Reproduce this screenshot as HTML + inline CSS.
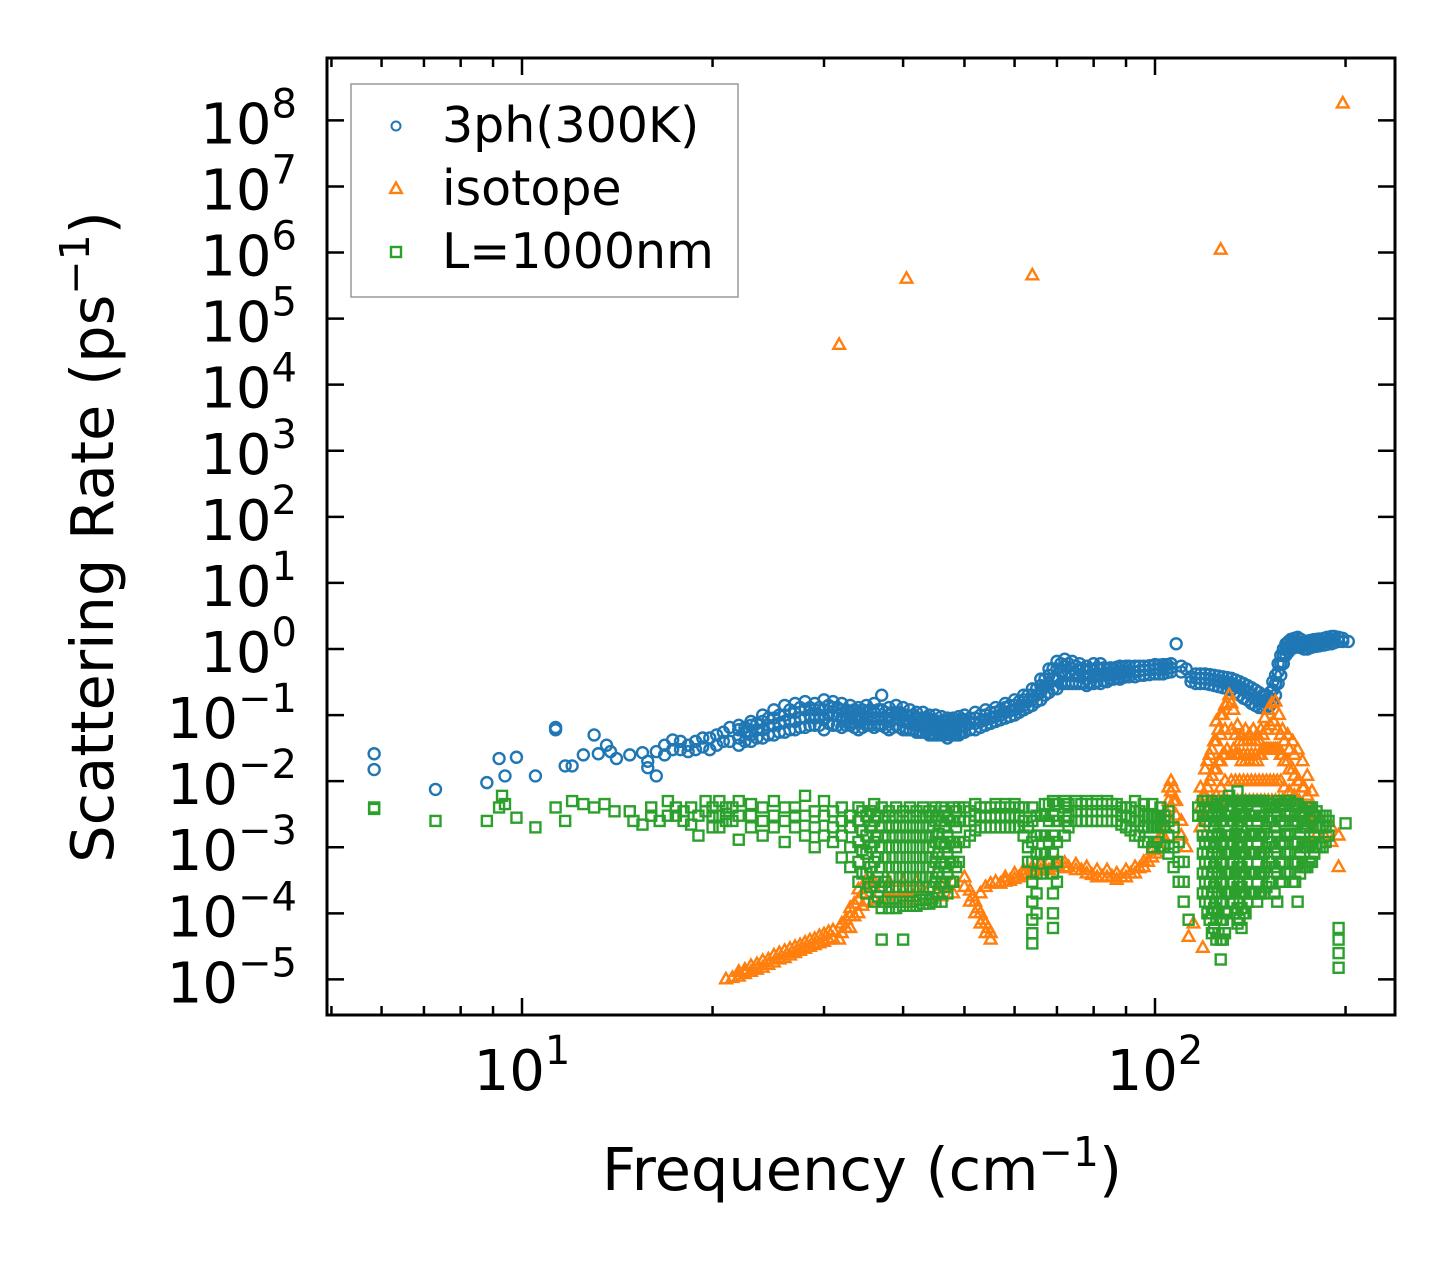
<!DOCTYPE html>
<html><head><meta charset="utf-8"><style>
html,body{margin:0;padding:0;background:#fff;}
svg{display:block;font-family:"DejaVu Sans","Liberation Sans",sans-serif;}
</style></head><body>
<svg id="chart" width="1455" height="1265" viewBox="0 0 1455 1265" xmlns="http://www.w3.org/2000/svg">
<defs><clipPath id="plotclip"><rect x="327" y="58" width="1068" height="957"/></clipPath></defs>
<g id="marks" clip-path="url(#plotclip)"></g>
<g id="axes"></g>
</svg>
<script>
const xTickExps = [1, 2];
const yTickExps = [8,7,6,5,4,3,2,1,0,-1,-2,-3,-4,-5];
const seriesNames = ["3ph(300K)", "isotope", "L=1000nm"];
const bluePoints = [[5.84,[.026,.015]],[7.3,[.0075]],[8.8,[.0095]],[9.2,[.022]],[9.4,[.012]],[9.8,[.023]],[10.5,[.012]],[11.3,[.065,.06]],[11.7,[.017]],[12,[.017]],[12.5,[.025]],[13,[.05]],[13.2,[.026]],[13.6,[.035]],[13.8,[.028]],[14.1,[.022]],[14.8,[.025]],[15.5,[.027]],[15.8,[.016,.02]],[16.3,[.012,.028]],[16.8,[.035,.025]],[17.3,[.042,.03]],[17.8,[.03,.04]],[18.3,[.035,.028]],[18.8,[.04,.03]],[19.3,[.033,.045]],[19.8,[.045,.03]],[20.3,[.035,.05]],[20.8,[.04,.055]],[21.3,[.065,.04]],
[22,[.035,.045,.06,.07]],[23,[.04,.05,.07,.08]],[24,[.045,.06,.08,.1]],[25,[.05,.07,.09,.12]],[26,[.055,.08,.1,.14]],[27,[.06,.08,.11,.15]],[28,[.065,.09,.12,.16]],[29,[.07,.09,.12,.15]],[30,[.06,.09,.12,.17]],[31,[.07,.1,.13,.16]],[32,[.065,.09,.12,.15]],[33,[.07,.09,.11,.14]],[34,[.06,.08,.1,.13]],[35,[.07,.09,.11,.14]],[36,[.065,.085,.11,.15]],[37,[.07,.09,.12,.2]],[38,[.06,.08,.1,.13]],[39,[.07,.09,.11,.14]],[40,[.06,.08,.1,.13]],[41,[.06,.075,.095,.12]],[42,[.055,.07,.09,.11]],[43,[.055,.07,.09,.11]],[44,[.05,.065,.08,.1]],[45,[.05,.065,.08,.1]],[46,[.05,.06,.075,.095]],[47,[.045,.06,.075,.09]],[48,[.05,.06,.075,.09]],[49,[.05,.065,.08,.095]],[50,[.055,.07,.085,.1]],[52,[.06,.075,.09,.11]],[54,[.07,.085,.1,.12]],[56,[.08,.095,.11,.13]],[58,[.09,.11,.13,.15]],[60,[.1,.12,.14,.17]],[62,[.12,.14,.17,.2]],[64,[.14,.17,.2,.25]],[66,[.17,.22,.28,.35]],[68,[.22,.3,.4,.5]],[70,[.25,.35,.5,.65]],[72,[.3,.4,.55,.7]],[74,[.3,.4,.5,.65]],[76,[.3,.38,.48,.6]],[78,[.28,.35,.45,.55]],[80,[.3,.38,.48,.6]],[82,[.3,.4,.5,.6]],[84,[.32,.4,.5]],[86,[.35,.42,.5]],[88,[.35,.45,.55]],[90,[.38,.45,.55]],[93,[.38,.45,.55]],[96,[.4,.48,.55]],[100,[.42,.5,.58]],[103,[.42,.5,.58]],[106,[.45,.52,.6]],[108,[1.2]],[110,[.45,.55]],[112,[.5]],
[116,[.3,.36,.42]],[120,[.3,.36,.42]],[124,[.28,.34,.4]],[128,[.26,.32,.38]],[132,[.24,.3,.36]],[136,[.2,.26,.32]],[140,[.17,.22,.28]],[144,[.14,.18,.24]],[148,[.13,.16,.2]],[152,[.14,.18,.22]],[155,[.2,.3,.4]],[158,[.4,.6,.8]],[161,[.8,1.0,1.2]],[164,[1.0,1.2,1.4]],[168,[1.1,1.3,1.5]],[172,[1.0,1.15,1.3]],[176,[1.05,1.2,1.35]],[180,[1.1,1.25,1.4]],[185,[1.15,1.3,1.45]],[190,[1.2,1.35,1.55]],[195,[1.3,1.5]],[202,[1.3]],
[22.5,[.04,.055,.065]],[23.5,[.045,.06,.075]],[24.5,[.05,.07,.09]],[25.5,[.055,.075,.1]],[26.5,[.06,.085,.12]],[27.5,[.065,.09,.13]],[28.5,[.07,.1,.13]],[29.5,[.07,.1,.13]],[30.5,[.075,.1,.14]],[31.5,[.07,.1,.13]],[32.5,[.07,.095,.12]],[33.5,[.065,.09,.12]],[34.5,[.065,.09,.12]],[35.5,[.07,.09,.12]],[36.5,[.07,.09,.12]],[37.5,[.065,.085,.11]],[38.5,[.065,.085,.11]],[39.5,[.065,.085,.11]],[40.5,[.06,.08,.1]],[41.5,[.06,.075,.1]],[42.5,[.055,.07,.09]],[43.5,[.055,.07,.09]],[44.5,[.05,.065,.085]],[45.5,[.05,.065,.08]],[46.5,[.05,.06,.08]],[47.5,[.05,.06,.08]],[48.5,[.05,.065,.08]],[49.5,[.055,.07,.085]],[51,[.06,.075,.09]],[53,[.065,.08,.1]],[55,[.075,.09,.11]],[57,[.085,.1,.12]],[59,[.095,.115,.14]],[61,[.11,.13,.16]],[63,[.13,.16,.2]],[65,[.16,.2,.25]],[67,[.2,.27,.35]],[69,[.25,.35,.5]],[71,[.3,.45,.6]],[73,[.3,.45,.6]],[75,[.3,.42,.55]],[77,[.3,.4,.5]],[79,[.3,.4,.5]],[81,[.32,.42,.52]],[83,[.33,.42,.52]],[85,[.35,.43,.52]],[87,[.36,.44,.53]],[89,[.37,.45,.54]],[91,[.38,.46,.55]],[94.5,[.4,.47,.55]],[98,[.41,.48,.56]],[101.5,[.42,.5,.57]],[104.5,[.44,.51,.58]],[114,[.32,.38]],[118,[.3,.36,.42]],[122,[.29,.35,.41]],[126,[.27,.33,.39]],[130,[.25,.31,.37]],[134,[.22,.28,.34]],[138,[.18,.24,.3]],[142,[.15,.2,.26]],[146,[.13,.17,.22]],[150,[.13,.16,.2]],[153.5,[.16,.24,.32]],[156.5,[.3,.45,.6]],[159.5,[.6,.8,1.0]],[162.5,[.9,1.1,1.3]],[166,[1.05,1.25,1.45]],[170,[1.05,1.2,1.4]],[174,[1.0,1.18,1.32]],[178,[1.08,1.22,1.38]],[182,[1.12,1.28,1.42]],[187,[1.18,1.32,1.5]],[192,[1.25,1.4,1.55]],[198,[1.3,1.45]]];
const orangePoints = [[31.7,[4e4]],[40.5,[4e5]],[64,[4.5e5]],[127,[1.1e6]],[198,[1.8e8]],
[21,[1e-5]],[22,[1.1e-5,1.3e-5]],[23,[1.3e-5,1.6e-5]],[24,[1.5e-5,1.9e-5]],[25,[1.8e-5,2.3e-5]],[26,[2.1e-5,2.7e-5]],[27,[2.5e-5,3.1e-5]],[28,[2.9e-5,3.6e-5]],[29,[3.3e-5,4.1e-5]],[30,[3.7e-5,4.8e-5]],[31,[4.2e-5,5.5e-5]],[31.7,[4e-5]],[32,[5e-5,7e-5]],[33,[6e-5,9e-5,1.2e-4]],[34,[1e-4,1.6e-4,2.3e-4]],[35,[1.5e-4,2.5e-4,3.2e-4]],
[36,[1.6e-4,2.5e-4,3e-4]],[38,[1.6e-4,2.2e-4,3e-4]],[40,[1.6e-4,2.2e-4,3e-4]],[42,[1.6e-4,2.2e-4,3e-4]],[44,[1.6e-4,2.4e-4]],[46,[1.8e-4,2.6e-4]],[48,[2e-4,3e-4]],
[50,[2.5e-4,3.5e-4]],[51,[1.5e-4,2.2e-4]],[52,[1e-4,1.5e-4]],[53,[7e-5,1e-4,2e-4]],[54,[5e-5,7e-5,2.5e-4]],[55,[4e-5,5e-5,2.8e-4]],[56,[3e-4]],[58,[3e-4,3.5e-4]],[60,[3.3e-4,4e-4]],[62,[3.8e-4,4.5e-4]],[64,[4.2e-4,5e-4]],[66,[4.5e-4,5.5e-4]],[68,[4.5e-4,6e-4]],[70,[5e-4,6e-4]],[72,[4.8e-4,5.8e-4]],[75,[4.5e-4,5.5e-4]],[78,[4e-4,5e-4]],[81,[3.5e-4,4.5e-4]],[84,[3.5e-4,4.5e-4]],[87,[3.2e-4,4e-4]],[90,[3.5e-4,4.5e-4]],[93,[4e-4,5e-4]],[96,[5e-4,6e-4]],[99,[7e-4,9e-4]],[102,[1e-3,1.5e-3]],[104,[2e-3,3.5e-3]],[106,[4e-3,7e-3,1e-2]],[108,[3e-3,5e-3]],[110,[1.5e-3,2.5e-3]],[112,[1e-3]],[113,[4.4e-5]],[115,[7e-5]],[119,[3e-5]],
[118,[2e-3,4e-3,8e-3]],[120,[3e-3,6e-3,1.5e-2]],[122,[4e-3,1e-2,2.5e-2]],[124,[5e-3,1.5e-2,4e-2]],[126,[5e-3,2e-2,6e-2]],[128,[5e-3,2.5e-2,1e-1]],[130,[5e-3,3e-2,1.5e-1]],[131,[2e-1]],[133,[5e-3,3e-2,1.2e-1]],[135,[5e-3,2.5e-2,7e-2]],[137,[5e-3,2e-2,5e-2]],[139,[5e-3,2e-2,6e-2]],[141,[5e-3,2e-2,5e-2]],[143,[5e-3,2e-2,6e-2]],[145,[5e-3,2e-2,5e-2]],[147,[5e-3,2.5e-2,6e-2]],[149,[5e-3,3e-2,9e-2]],[151,[5e-3,3e-2,1.2e-1]],[153,[5e-3,3e-2,1.5e-1]],[155,[5e-3,3e-2,1.6e-1]],[157,[5e-3,3e-2,1e-1]],[159,[5e-3,2.5e-2,6e-2]],[162,[5e-3,2e-2,5e-2]],[165,[5e-3,1.5e-2,4e-2]],[168,[4e-3,1e-2,3e-2]],[171,[3e-3,8e-3,2e-2]],[174,[3e-3,6e-3,1.2e-2]],[177,[2e-3,4e-3,7e-3]],[180,[1.5e-3,3e-3]],[185,[1.5e-3]],[190,[1.2e-3,2e-3]],[195,[5e-4,1.5e-3]],
[119,[3e-3,6e-3]],[121,[4e-3,8e-3,2e-2]],[123,[5e-3,1.2e-2,3e-2]],[125,[6e-3,1.5e-2,4e-2,8e-2]],[127,[8e-3,2e-2,5e-2,1e-1]],[129,[1e-2,2.5e-2,6e-2,1.4e-1]],[132,[1e-2,2.5e-2,6e-2,1.5e-1]],[134,[1e-2,2.5e-2,5e-2]],[136,[1e-2,2.5e-2,4e-2]],[138,[1e-2,2.5e-2,4e-2]],[140,[1e-2,2.5e-2,4e-2]],[142,[1e-2,2.5e-2,4e-2]],[144,[1e-2,2.5e-2,4e-2]],[146,[1e-2,2.5e-2,4e-2]],[148,[1e-2,3e-2,5e-2]],[150,[1e-2,3e-2,6e-2]],[152,[1e-2,3e-2,7e-2]],[154,[1e-2,3e-2,8e-2]],[156,[1e-2,3e-2,6e-2]],[158,[1e-2,2.5e-2,5e-2]],[160,[8e-3,2e-2,4e-2]],[163,[7e-3,1.5e-2,3e-2]],[166,[6e-3,1.2e-2,2.5e-2]],[169,[5e-3,1e-2]],[172,[4e-3,8e-3]],[105,[5e-3,8e-3]],[107,[5e-3,8e-3]],
[21.5,[1.05e-5]],[22.5,[1.2e-5,1.4e-5]],[23.5,[1.4e-5,1.7e-5]],[24.5,[1.65e-5,2e-5]],[25.5,[2e-5,2.5e-5]],[26.5,[2.3e-5,2.9e-5]],[27.5,[2.7e-5,3.3e-5]],[28.5,[3.1e-5,3.9e-5]],[29.5,[3.5e-5,4.5e-5]],[30.5,[4e-5,5.2e-5]],[32.5,[6e-5,8e-5]],[33.5,[9e-5,1.4e-4]],[34.5,[1.3e-4,2e-4]],[57,[2.8e-4]],[59,[3.1e-4]],[61,[3.5e-4]],[63,[4e-4]],[65,[4.4e-4]],[67,[4.8e-4]],[69,[5e-4]],[73,[5e-4]],[76.5,[4.5e-4]],[79.5,[3.8e-4]],[82.5,[3.6e-4]],[85.5,[3.6e-4]],[88.5,[3.5e-4]],[91.5,[4e-4]],[94.5,[4.8e-4]],[97.5,[6e-4]],[100.5,[8e-4]],[103,[1.5e-3]],[51.5,[1.8e-4]],[52.5,[1.2e-4]],[53.5,[8e-5]],[54.5,[6e-5]]];
const greenPoints = [[5.84,[4e-3,3.8e-3]],[7.3,[2.5e-3]],[8.8,[2.5e-3]],[9.2,[4e-3]],[9.3,[6e-3]],[9.4,[4.5e-3]],[9.8,[2.8e-3]],[10.5,[2e-3]],[11.3,[4e-3]],[11.7,[2.5e-3]],[12,[5e-3]],[12.5,[4.5e-3]],[13,[4e-3]],[13.5,[4.5e-3]],[14,[3.5e-3]],[14.8,[3.5e-3]],[15,[2.5e-3]],[15.5,[2.2e-3]],[16,[3e-3,4e-3]],[16.5,[2.5e-3]],[17,[5e-3,3e-3]],[17.5,[3e-3,4e-3]],[18,[2.5e-3,3.5e-3]],[18.5,[4e-3,2.2e-3]],[19,[1.5e-3,3e-3]],[19.5,[5e-3,3.5e-3]],[20,[3e-3,2e-3,4e-3]],[20.5,[2e-3,3e-3,5e-3]],[21,[4e-3,2.5e-3,3.2e-3]],[21.5,[2.5e-3,4e-3]],[22,[1.3e-3,3e-3,5e-3]],[23,[2e-3,3e-3,4.5e-3]],[24,[1.5e-3,2.5e-3,4e-3]],[25,[2e-3,3e-3,5e-3]],[26,[1.2e-3,2.5e-3,4e-3]],[27,[2e-3,3e-3,4e-3]],[28,[1.5e-3,3e-3,6e-3]],[29,[1e-3,2e-3,3.5e-3]],[30,[1.5e-3,3e-3,5e-3]],[31,[1.2e-3,2e-3,3.5e-3]],[32,[7e-4,1.5e-3,2.5e-3,4e-3]],[33,[5e-4,1e-3,2e-3,3e-3]],[34,[3e-4,6e-4,1.2e-3,2.5e-3,4e-3]],[35,[2e-4,4e-4,8e-4,1.5e-3,3e-3]],[36,[1.5e-4,3e-4,6e-4,1.2e-3,2.5e-3,4.5e-3]],[37,[4e-5,1.2e-4,2.5e-4,5e-4,1e-3,2e-3,4e-3]],[38,[1.2e-4,2.5e-4,5e-4,1e-3,2e-3,3.5e-3]],[39,[1.2e-4,2.5e-4,5e-4,1e-3,2e-3,4e-3]],[40,[4e-5,1.3e-4,2.5e-4,5e-4,1e-3,2e-3,3.5e-3]],[41,[1.3e-4,2.5e-4,5e-4,1e-3,2e-3,4e-3]],[42,[1.3e-4,2.5e-4,5e-4,1e-3,2e-3,3.5e-3]],[43,[1.4e-4,2.5e-4,5e-4,1e-3,2e-3,4e-3]],[44,[1.4e-4,2.5e-4,5e-4,1e-3,2e-3,3.5e-3]],[45,[1.5e-4,3e-4,6e-4,1.2e-3,2.5e-3,4e-3]],[46,[1.5e-4,3e-4,6e-4,1.2e-3,2.5e-3,4e-3]],[47,[2e-4,4e-4,8e-4,1.5e-3,3e-3]],[48,[3e-4,6e-4,1.2e-3,2.5e-3,4e-3]],[49,[6e-4,1.2e-3,2.5e-3,4e-3]],[50,[1.2e-3,2.5e-3,4e-3]],[52,[1.8e-3,3e-3,4.5e-3]],[54,[2e-3,3e-3,4e-3]],[56,[2e-3,3e-3,4.5e-3]],[58,[2e-3,3e-3,4.5e-3]],[60,[2e-3,3e-3,4.5e-3]],[62,[1.5e-3,2.5e-3,4e-3]],[63,[6e-4,1e-3,2e-3]],[64,[3.5e-5,5e-5,8e-5,1.5e-4,3e-4,6e-4,1.2e-3,2.5e-3,4e-3]],[65,[1e-4,2e-4,4e-4,8e-4,1.5e-3,3e-3]],[66,[4e-4,8e-4,1.5e-3,3e-3]],[67,[8e-4,1.5e-3,3e-3,4.5e-3]],[68,[6e-4,1.2e-3,2.5e-3,4.5e-3]],[69,[6e-5,1e-4,2e-4,4e-4,8e-4,1.5e-3,3e-3,5e-3]],[70,[3e-4,6e-4,1.2e-3,2.5e-3,4.5e-3]],[72,[1.5e-3,2.5e-3,4e-3,5e-3]],[75,[2.5e-3,3.5e-3,5e-3]],[78,[2.5e-3,3.5e-3,5e-3]],[81,[2.5e-3,3.5e-3,5e-3]],[84,[2.5e-3,3.5e-3,5e-3]],[87,[2.5e-3,3.5e-3,4.5e-3]],[90,[2e-3,3e-3,4e-3]],[93,[1.5e-3,2.5e-3,3.5e-3,5e-3]],[96,[1.2e-3,2e-3,3e-3,4.5e-3]],[99,[1e-3,2e-3,3e-3,4.5e-3]],[102,[1e-3,2e-3,3e-3,4e-3]],[105,[8e-4,1.5e-3,2.5e-3,3.5e-3]],[107,[5e-4,1e-3,2e-3]],[109,[3e-4,6e-4,1.2e-3]],[111,[1.5e-4,3e-4,6e-4]],[113,[8e-5]],[117,[3e-3,4e-3]],[119,[2e-4,4e-4,8e-4,1.5e-3,3e-3,5e-3]],
[121,[1e-4,2e-4,4e-4,8e-4,1.5e-3,3e-3,5e-3]],[123,[5e-5,1e-4,2e-4,4e-4,8e-4,1.5e-3,3e-3,5e-3]],[125,[4e-5,8e-5,1.5e-4,3e-4,6e-4,1.2e-3,2.5e-3,4.5e-3]],[127,[2e-5,4e-5,8e-5,1.5e-4,3e-4,6e-4,1.2e-3,2.5e-3,4.5e-3]],[129,[5e-5,1e-4,2e-4,4e-4,8e-4,1.5e-3,3e-3,5e-3]],[131,[2e-4,4e-4,8e-4,1.5e-3,3e-3,6e-3]],[133,[1.5e-4,3e-4,6e-4,1.2e-3,2.5e-3,5e-3]],[135,[7e-5,1.2e-4,2.5e-4,5e-4,1e-3,2e-3,4e-3,7e-3]],[137,[6e-5,1.2e-4,2.5e-4,5e-4,1e-3,2e-3,4e-3]],[139,[1e-4,2e-4,4e-4,8e-4,1.5e-3,3e-3,5e-3]],[141,[2e-4,4e-4,8e-4,1.5e-3,3e-3,5e-3]],[143,[2e-4,4e-4,8e-4,1.5e-3,3e-3,5e-3]],[145,[1.5e-4,3e-4,6e-4,1.2e-3,2.5e-3,5e-3]],[147,[2e-4,4e-4,8e-4,1.5e-3,3e-3,5e-3]],[150,[2.5e-4,5e-4,1e-3,2e-3,4e-3]],[153,[3e-4,6e-4,1.2e-3,2.5e-3,4.5e-3]],[156,[1.5e-4,4e-4,8e-4,1.5e-3,3e-3,5e-3]],[159,[3e-4,6e-4,1.2e-3,2.5e-3,4.5e-3]],[162,[4e-4,8e-4,1.5e-3,3e-3,5e-3]],[165,[3e-4,6e-4,1.2e-3,2.5e-3,4.5e-3]],[168,[1.5e-4,6e-4,1.2e-3,2.5e-3,4.5e-3]],[171,[5e-4,1e-3,2e-3,3.5e-3]],[174,[5e-4,1e-3,2e-3,4e-3]],[177,[6e-4,1.2e-3,2.5e-3,4e-3]],[180,[1e-3,2e-3,3.5e-3]],[184,[1e-3,2e-3,3e-3]],[188,[1.5e-3,2.5e-3]],[195,[1.5e-5,2.5e-5,4e-5,6e-5]],[200,[2.3e-3]],
[34.5,[4e-4,9e-4,1.8e-3,3.5e-3]],[35.5,[2.5e-4,5e-4,1e-3,2e-3,3.5e-3]],[36.5,[1.8e-4,3.5e-4,7e-4,1.5e-3,3e-3]],[37.5,[1.5e-4,3e-4,7e-4,1.5e-3,3e-3]],[38.5,[1.5e-4,3.5e-4,7e-4,1.5e-3,3e-3]],[39.5,[1.5e-4,3.5e-4,7e-4,1.5e-3,3e-3]],[40.5,[1.5e-4,3.5e-4,7e-4,1.5e-3,3e-3]],[41.5,[1.5e-4,3.5e-4,7e-4,1.5e-3,3e-3]],[42.5,[1.6e-4,3.5e-4,7e-4,1.5e-3,3e-3]],[43.5,[1.6e-4,3.5e-4,7e-4,1.5e-3,3e-3]],[44.5,[1.7e-4,3.5e-4,7e-4,1.5e-3,3e-3]],[45.5,[2e-4,4e-4,8e-4,1.6e-3,3e-3]],[46.5,[2.5e-4,5e-4,1e-3,2e-3,3.5e-3]],[47.5,[3e-4,6e-4,1.2e-3,2.5e-3]],[48.5,[5e-4,1e-3,2e-3,3.5e-3]],[51,[1.5e-3,2.5e-3,3.5e-3]],[53,[2e-3,3e-3,4e-3]],[55,[2e-3,3e-3,4e-3]],[57,[2e-3,3e-3,4e-3]],[59,[2e-3,3e-3,4e-3]],[61,[2e-3,3e-3,4e-3]],[73,[2e-3,3e-3,4.5e-3]],[76.5,[2.5e-3,3.5e-3,4.5e-3]],[79.5,[2.5e-3,3.5e-3,4.5e-3]],[82.5,[2.5e-3,3.5e-3,4.5e-3]],[85.5,[2.5e-3,3.5e-3,4.5e-3]],[88.5,[2.2e-3,3e-3,4e-3]],[91.5,[1.8e-3,2.8e-3,4e-3]],[94.5,[1.5e-3,2.5e-3,3.5e-3]],[97.5,[1.2e-3,2e-3,3e-3]],[100.5,[1.2e-3,2e-3,3e-3]],[103.5,[1e-3,2e-3,3e-3]],
[120,[1.5e-4,3e-4,6e-4,1.2e-3,2.5e-3,4e-3]],[122,[8e-5,1.5e-4,3e-4,6e-4,1.2e-3,2.5e-3,4e-3]],[124,[6e-5,1.2e-4,2.5e-4,5e-4,1e-3,2e-3,4e-3]],[126,[5e-5,1e-4,2e-4,4e-4,8e-4,1.6e-3,3.5e-3]],[128,[4e-5,8e-5,1.5e-4,3e-4,6e-4,1.2e-3,2.5e-3,4.5e-3]],[130,[1e-4,2e-4,4e-4,8e-4,1.5e-3,3e-3,5e-3]],[132,[2e-4,4e-4,8e-4,1.5e-3,3e-3,5e-3]],[134,[1e-4,2e-4,4e-4,8e-4,1.6e-3,3e-3,5e-3]],[136,[8e-5,1.5e-4,3e-4,6e-4,1.2e-3,2.5e-3,4.5e-3]],[138,[1e-4,2e-4,4e-4,8e-4,1.5e-3,3e-3,5e-3]],[140,[1.5e-4,3e-4,6e-4,1.2e-3,2.5e-3,4.5e-3]],[142,[2e-4,4e-4,8e-4,1.6e-3,3e-3,5e-3]],[144,[2e-4,4e-4,8e-4,1.6e-3,3e-3,5e-3]],[146,[2e-4,4e-4,8e-4,1.6e-3,3e-3,5e-3]],[148.5,[2e-4,4e-4,8e-4,1.6e-3,3e-3,5e-3]],[151.5,[3e-4,6e-4,1.2e-3,2.5e-3,4.5e-3]],[154.5,[2e-4,5e-4,1e-3,2e-3,4e-3]],[157.5,[3e-4,6e-4,1.2e-3,2.5e-3,4.5e-3]],[160.5,[4e-4,8e-4,1.6e-3,3e-3,5e-3]],[163.5,[4e-4,8e-4,1.6e-3,3e-3,5e-3]],[166.5,[3e-4,6e-4,1.2e-3,2.5e-3,4.5e-3]],[169.5,[4e-4,8e-4,1.6e-3,3e-3]],[172.5,[5e-4,1e-3,2e-3,3.5e-3]],[175.5,[6e-4,1.2e-3,2.5e-3,4e-3]],[178.5,[8e-4,1.5e-3,3e-3]],[182,[1e-3,2e-3,3e-3]],[186,[1.2e-3,2e-3,3e-3]]];

const NS = "http://www.w3.org/2000/svg";
const PL = 327, PR = 1395, PT = 58, PB = 1015;
const X_DEC1 = 522, X_PER_DEC = 633;
const Y_DEC0 = 649, Y_PER_DEC = 66.08;
function xs(f){ return X_DEC1 + (Math.log10(f) - 1) * X_PER_DEC; }
function ys(r){ return Y_DEC0 - Math.log10(r) * Y_PER_DEC; }
function mk(tag, attrs, parent){
  const e = document.createElementNS(NS, tag);
  for (const k in attrs) e.setAttribute(k, attrs[k]);
  parent.appendChild(e); return e;
}
const marks = document.getElementById('marks');
const axes = document.getElementById('axes');
const C = ["#1f77b4", "#ff7f0e", "#2ca02c"];

function drawCircle(cx, cy, parent){
  const e = mk('circle', {cx:cx, cy:cy, r:5.5, fill:'none', stroke:C[0], 'stroke-width':2.4}, parent);
  
  
}
function drawTri(cx, cy, parent, nm){
  const s = 6.5;
  const e = mk('polygon', {points:`${cx},${cy-s} ${cx-s*0.9},${cy+s*0.6} ${cx+s*0.9},${cy+s*0.6}`, fill:'none', stroke:C[1], 'stroke-width':2.4}, parent);
  
  
}
function drawSq(cx, cy, parent, nm){
  const e = mk('rect', {x:cx-5, y:cy-5, width:10, height:10, fill:'none', stroke:C[2], 'stroke-width':2.4}, parent);
  
  
}
const gB = mk('g', {}, marks);


bluePoints.forEach(p => p[1].forEach(r => drawCircle(xs(p[0]), ys(r), gB)));
const gO = mk('g', {}, marks);


orangePoints.forEach(p => p[1].forEach(r => drawTri(xs(p[0]), ys(r), gO)));
const gG = mk('g', {}, marks);


greenPoints.forEach(p => p[1].forEach(r => drawSq(xs(p[0]), ys(r), gG)));

const fr = mk('rect', {x:PL, y:PT, width:PR-PL, height:PB-PT, fill:'none', stroke:'#000', 'stroke-width':3}, axes);



for (let d = 0; d <= 2; d++){
  for (let m = 1; m <= 9; m++){
    const f = m * Math.pow(10, d);
    const x = xs(f);
    if (x < PL || x > PR) continue;
    const len = m === 1 ? 17 : 9;
    const t1 = mk('line', {x1:x, y1:PB, x2:x, y2:PB-len, stroke:'#000', 'stroke-width':2.5}, axes);
    
    
    const t2 = mk('line', {x1:x, y1:PT, x2:x, y2:PT+len, stroke:'#000', 'stroke-width':2.5}, axes);
    
    
  }
}
xTickExps.forEach(e => {
  const x = xs(Math.pow(10, e));
  const t = mk('text', {x:x, y:1090, 'text-anchor':'middle', 'font-size':56}, axes);
  
  
  t.innerHTML = `10<tspan font-size="40" dy="-26">${e}</tspan>`;
});
yTickExps.forEach(e => {
  const y = ys(Math.pow(10, e));
  const t1 = mk('line', {x1:PL, y1:y, x2:PL+17, y2:y, stroke:'#000', 'stroke-width':2.5}, axes);
  
  
  const t2 = mk('line', {x1:PR, y1:y, x2:PR-17, y2:y, stroke:'#000', 'stroke-width':2.5}, axes);
  
  
  const lbl = e < 0 ? '\u2212' + (-e) : '' + e;
  const t = mk('text', {x:297, y:y+23, 'text-anchor':'end', 'font-size':56}, axes);
  
  
  t.innerHTML = `10<tspan font-size="40" dy="-26">${lbl}</tspan>`;
});

const xt = mk('text', {x:862, y:1190, 'text-anchor':'middle', 'font-size':59}, axes);


xt.innerHTML = 'Frequency (cm<tspan font-size="41" dy="-24">\u22121</tspan><tspan dy="24">)</tspan>';
const yt = mk('text', {x:0, y:0, 'text-anchor':'middle', 'font-size':59, transform:'translate(113,537) rotate(-90)'}, axes);


yt.innerHTML = 'Scattering Rate (ps<tspan font-size="41" dy="-24">\u22121</tspan><tspan dy="24">)</tspan>';

const lg = mk('g', {}, axes);


const lb = mk('rect', {x:351, y:84, width:387, height:213, fill:'#fff', 'fill-opacity':0.8, stroke:'#999', 'stroke-width':1.5}, lg);


const legY = [126, 189, 252];
seriesNames.forEach((n, i) => {
  const cy = legY[i];
  if (i === 0) mk('circle', {cx:396, cy:cy, r:4.5, fill:'none', stroke:C[0], 'stroke-width':2}, lg);
  if (i === 1) drawTri(396, cy, lg, 'legend-marker-isotope');
  if (i === 2) drawSq(396, cy, lg, 'legend-marker-boundary');
  const t = mk('text', {x:442, y:cy+16, 'font-size':49}, lg);
  
  
  t.textContent = n;
});
</script>
</body></html>
